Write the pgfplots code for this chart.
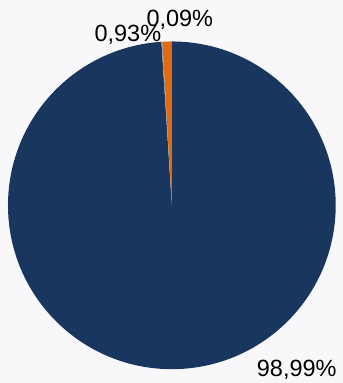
\documentclass[border=0pt]{standalone}
\usepackage{pgfplots}
\pgfplotsset{compat=1.18}
\usepackage{fontspec}
\setmainfont{Liberation Sans}
\definecolor{bgc}{HTML}{F8F8FA}
\definecolor{pieblue}{HTML}{18365E}
\definecolor{pieorange}{HTML}{E26B10}
\definecolor{piegrey}{HTML}{8A9AB0}
\begin{document}
\begin{tikzpicture}
\begin{axis}[x=1pt, y=1pt, xmin=0, xmax=343, ymin=0, ymax=383,
  hide axis, clip=false]
\fill[bgc] (axis cs:0,0) rectangle (axis cs:343,383);
\xdef\angstart{90}
\foreach \v/\c in {98.99/pieblue, 0.09/piegrey, 0.93/pieorange}{
  \pgfmathsetmacro\angend{\angstart - 3.6*\v}
  \edef\temp{\noexpand\fill[\c] (axis cs:172,177.5) -- ++(\angstart:164pt) arc[start angle=\angstart, end angle=\angend, radius=164pt] -- cycle;}
  \temp
  \xdef\angstart{\angend}
}
\node[anchor=base, font=\fontsize{23.5}{28}\selectfont] at (axis cs:297,6) {98,99\%};
\node[anchor=base, font=\fontsize{23.5}{28}\selectfont] at (axis cs:128,341) {0,93\%};
\node[anchor=base, font=\fontsize{23.5}{28}\selectfont] at (axis cs:180,356) {0,09\%};
\end{axis}
\end{tikzpicture}
\end{document}
